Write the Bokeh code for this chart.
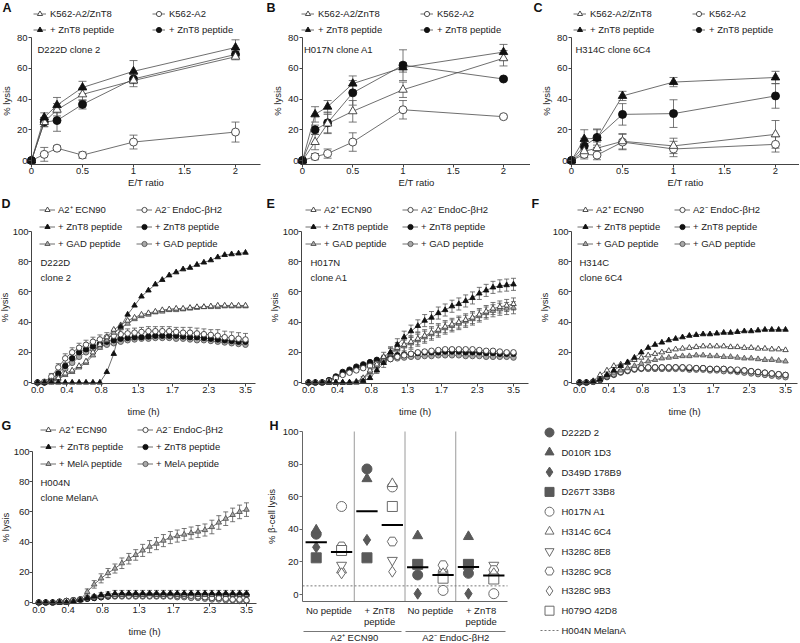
import numpy as np
from bokeh.plotting import figure
from bokeh.models import (Range1d, FixedTicker, Legend, LegendItem, Label, Whisker,
                          ColumnDataSource, LinearAxis, TeeHead)
from bokeh.layouts import column, row
from bokeh.embed import file_html
from bokeh.resources import INLINE
from bokeh.core.properties import value

# ---------------- data: panels A-C (lysis vs E/T ratio) ----------------
et_ratio = [0, 0.125, 0.25, 0.5, 1, 2]
et_ticks = [0, 0.5, 1, 1.5, 2]
et_tick_labels = ["0", "0.5", "1", "1.5", "2"]
lysis_ticks_80 = [0, 20, 40, 60, 80]
lysis_ticks_100 = [0, 20, 40, 60, 80, 100]
et_legend_labels = ["K562-A2/ZnT8", "+ ZnT8 peptide", "K562-A2", "+ ZnT8 peptide"]

a_znt8 = [0, 25, 33, 43, 52, 67.5]
a_znt8_err = [0, 3, 4, 4, 4, 2]
a_znt8_pep = [0, 28, 36, 47.5, 58, 73.5]
a_znt8_pep_err = [0, 3, 5, 4, 7, 5]
a_a2 = [0, 4, 8, 3.5, 12, 18.5]
a_a2_err = [0, 4.5, 1.5, 2, 4.5, 6.5]
a_a2_pep = [0, 25, 26, 36.5, 53, 69]
a_a2_pep_err = [0, 3, 7, 3, 3, 2]

b_znt8 = [0, 12, 24, 32, 46, 66.5]
b_znt8_err = [0, 5, 6, 7, 5, 5]
b_znt8_pep = [0, 30, 35, 50, 60.5, 70.5]
b_znt8_pep_err = [0, 5, 4, 5, 3, 5]
b_a2 = [0, 2.5, 4.5, 12, 33, 28.5]
b_a2_err = [0, 2, 3, 6, 6, 1]
b_a2_pep = [0, 20, 24.5, 44, 62, 53]
b_a2_pep_err = [0, 3, 7, 8, 10, 1]

c_znt8 = [0, 6, 8, 12.5, 9.5, 17]
c_znt8_err = [0, 4, 4, 5, 5, 9]
c_znt8_pep = [0, 14, 14.5, 42, 51, 54]
c_znt8_pep_err = [0, 6, 6, 3, 3, 4]
c_a2 = [0, 4, 3.5, 12, 7.5, 10.5]
c_a2_err = [0, 3, 3, 5, 5, 5]
c_a2_pep = [0, 9.5, 15, 30, 30.5, 42]
c_a2_pep_err = [0, 5, 5, 7, 9, 8]

# ---------------- data: panels D-G (lysis vs time) ----------------
time_idx = list(range(31))
time_tick_pos = [0, 4.25, 9.2, 14.5, 19.45, 24.7, 30]
time_tick_labels = ["0.0", "0.4", "0.8", "1.3", "1.7", "2.3", "3.5"]
gad_legend_labels = ["A2\u207a ECN90", "+ ZnT8 peptide", "+ GAD peptide",
                     "A2\u207b EndoC-\u03b2H2", "+ ZnT8 peptide", "+ GAD peptide"]
mela_legend_labels = ["A2\u207a ECN90", "+ ZnT8 peptide", "+ MelA peptide",
                      "A2\u207b EndoC-\u03b2H2", "+ ZnT8 peptide", "+ MelA peptide"]

d_a2p = [0, 0, 1, 3, 6, 8, 11, 14, 20, 25, 30, 35, 38, 41, 43, 45, 46, 47, 48, 48.5,
         49, 49, 49.5, 50, 50, 50.5, 51, 51, 51, 51, 51]
d_zt8_a2p = [0, 0, 0, 0, 0, 0, 0, 0, 0, 0, 7, 19, 37, 45, 51, 57, 61, 65, 68, 71,
             73, 75, 76, 78, 79.5, 81, 83, 84.5, 85, 85.5, 86]
d_gad_a2p = [0, 0, 0.5, 2, 5, 7, 10, 13, 18, 23, 28, 33, 36, 39, 42, 44, 45, 46.5, 47, 48,
             48, 48.5, 49, 49.5, 50, 50, 50, 50.5, 50.5, 50.5, 50.5]
d_a2m = [0, 0.5, 4, 10, 16, 20, 23, 25, 27, 28.5, 30, 31, 32, 32.5, 33, 33.5, 34, 34, 34, 34,
         33.5, 33, 33, 32.5, 32, 31.5, 31, 30, 29.5, 29, 28.5]
d_a2m_err = [0, 1, 2, 2.5, 3, 3, 3, 3, 3, 3, 3, 3, 3, 3, 3, 3, 3, 3, 3, 3,
             3, 3.5, 3.5, 3.5, 3.5, 3.5, 4, 4, 4, 4, 4]
d_zt8_a2m = [0, 0, 2, 6, 11, 16, 20, 22, 24, 25.5, 27, 28, 29, 29.5, 30, 30, 30.5, 31, 31, 31,
             31, 30.5, 30, 30, 29.5, 29, 28.5, 28, 27.5, 27, 27]
d_gad_a2m = [0, 0, 1, 4, 9, 13, 17, 20, 22, 24, 25, 26, 27, 28, 28.5, 29, 29, 29.5, 29.5, 29.5,
             29, 29, 28.5, 28, 28, 27.5, 27, 26.5, 26, 25.5, 25]

e_a2p = [0, 0, 0, 0, 0, 0, 0, 0.5, 3, 8, 12, 17, 20, 23, 25, 27, 29, 31, 33, 35,
         37, 38.5, 40, 41.5, 43, 45, 47, 49, 50, 51, 52]
e_a2p_err = [0, 0, 0, 0, 0, 0, 0, 0, 1, 2, 3, 3, 3.5, 3.5, 4, 4, 4, 4, 4, 4,
             4, 4, 4, 4, 4, 4, 4, 4, 4, 4, 4]
e_zt8_a2p = [0, 0, 0, 0, 0, 0, 0, 0, 1, 3, 8, 13, 20, 25, 30, 34, 37.5, 41, 43, 46,
             48, 50.5, 52, 54, 56, 59, 61, 63, 64, 64.5, 65]
e_zt8_a2p_err = [0, 0, 0, 0, 0, 0, 0, 0, 0, 1, 2, 3, 3.5, 4, 4, 4, 4, 4, 4, 4,
                 4, 4, 4, 4, 4, 4, 4, 4, 4, 4, 4]
e_gad_a2p = [0, 0, 0, 0, 0, 0, 0, 0.5, 2, 7, 11, 15, 19, 22, 24, 26, 28, 30, 32, 34,
             36, 37.5, 39, 40.5, 42, 44, 46, 47.5, 48.5, 49, 49.5]
e_gad_a2p_err = [0, 0, 0, 0, 0, 0, 0, 0, 1, 2, 3, 3, 3.5, 3.5, 4, 4, 4, 4, 4, 4,
                 4, 4, 4, 4, 4, 4, 4, 4, 4, 4, 4]
e_a2m = [0, 0, 0, 1, 3, 5, 6.5, 8, 9.5, 11, 12.5, 14, 15.5, 17, 18, 19, 20, 20.5, 21, 21.5,
         22, 22, 22, 22, 22, 21.5, 21, 21, 20.5, 20, 20]
e_a2m_err = [0, 0, 0, 0.5, 1, 1, 1, 1, 1, 1, 1, 1, 1, 1, 1, 1, 1, 1, 1, 1,
             1, 1, 1, 1, 1, 1, 1, 1, 1, 1, 1]
e_zt8_a2m = [0, 0, 0, 1.5, 4, 7, 8.5, 10.5, 12, 13.5, 15, 16, 17, 18, 18.5, 19, 19.5, 20, 20, 20,
             20.5, 20.5, 20.5, 20, 20, 20, 19.5, 19.5, 19, 19, 19]
e_gad_a2m = [0, 0, 0, 1.5, 3.5, 6, 7.5, 9.5, 11, 12.5, 13.5, 14.5, 15.5, 16, 16.5, 17, 17, 17.5, 17.5, 18,
             18, 18, 18, 17.5, 17.5, 17.5, 17, 17, 17, 17, 16.5]

f_a2p = [0, 0, 1, 5, 8, 11, 12, 13, 15, 16.5, 18, 19, 20, 21, 22, 22.5, 23, 23.5, 24, 24,
         24, 24, 23.5, 23.5, 23, 23, 22.5, 22.5, 22, 22, 21.5]
f_zt8_a2p = [0, 0, 0.5, 2, 5, 8, 11, 13.5, 16.5, 20, 23, 25, 26.5, 28, 29, 30, 31, 31.5, 32, 32,
             32.5, 33, 33, 33.5, 34, 34, 34.5, 35, 35, 35, 35]
f_gad_a2p = [0, 0, 0.5, 2, 4, 6, 8, 9.5, 11, 12.5, 14, 15, 16, 16.5, 17, 17.5, 17.5, 18, 18, 17.5,
             17.5, 17, 17, 16.5, 16, 16, 15.5, 15, 15, 14.5, 14]
f_a2m = [0, 0, 0.5, 2, 4, 5.5, 7, 8, 9, 9.5, 10, 10, 10, 10, 10, 10, 10, 9.5, 9.5, 9,
         9, 9, 8.5, 8.5, 8, 7.5, 7, 6.5, 6, 5.5, 5]
f_zt8_a2m = [0, 0, 0.5, 2, 4, 5.5, 7, 8, 9, 9.5, 10, 10, 10, 10, 10, 10, 9.5, 9.5, 9.5, 9,
             9, 9, 8.5, 8, 8, 7.5, 7, 6.5, 6, 5.5, 5]
f_gad_a2m = [0, 0, 0.5, 1.5, 3.5, 5, 6.5, 7.5, 8.5, 9, 9, 9, 9, 9, 9, 9, 8.5, 8.5, 8.5, 8,
             8, 7.5, 7.5, 7, 6.5, 6, 5.5, 5, 4.5, 4, 3.5]

g_a2p = [0, 0, 0, 0, 0, 1, 2, 3, 3.5, 4, 4.5, 5, 5, 5.5, 5, 5, 5.5, 5, 5, 5.5,
         5, 5, 5.5, 5, 5, 5, 5.5, 5, 5, 5, 5]
g_zt8_a2p = [0, 0, 0, 0, 0, 0.5, 1.5, 3, 4, 5, 5.5, 6, 6, 6, 6, 6, 6, 6, 6, 6,
             6, 6, 6, 6, 6, 6, 6, 6, 6, 6, 6]
g_zt8_a2p_err = [0, 0, 0, 0, 0, 0, 0.5, 1, 1, 1.5, 1.5, 2, 2, 2, 2, 2, 2, 2, 2, 2,
                 2, 2, 2, 2, 2, 2, 2, 2, 2, 2, 2]
g_mela_a2p = [0, 0, 0, 0, 0, 1, 2, 7, 12, 16, 19.5, 22.5, 26, 29, 31.5, 34.5, 37, 39, 41, 43,
              44, 45, 46, 47, 48, 50, 53, 55.5, 58, 60, 61.5]
g_mela_a2p_err = [0, 0, 0, 0, 0, 0, 1, 2, 2.5, 3, 3, 3, 3.5, 3.5, 3.5, 4, 4, 4, 4, 4,
                  4, 4, 4, 4, 4, 4.5, 4.5, 4.5, 4.5, 4.5, 4.5]
g_a2m = [0, 0, 0, 0.5, 1, 1.5, 2, 3, 3.5, 4, 4.5, 4.5, 4.5, 4.5, 4.5, 4.5, 4.5, 4.5, 4.5, 4.5,
         4.5, 4.5, 4.5, 4, 3.5, 3, 3, 2.5, 2, 2, 1.5]
g_zt8_a2m = [0, 0, 0, 0.5, 1, 1.5, 2, 2.5, 3, 3.5, 4, 4.5, 5, 5, 5, 5, 5, 5, 5, 5,
             5, 5, 5, 5, 5, 5, 5, 5, 5, 5, 5]
g_mela_a2m = [0, 0, 0, 0.5, 1, 1.5, 2, 2.5, 3, 3.5, 4, 4, 4, 4, 4, 4, 4, 4, 4, 4,
              3.5, 3.5, 3, 3, 2.5, 2, 2, 1.5, 1.5, 1, 1]

# ---------------- data: panel H (beta-cell lysis per clone) ----------------
h_condition_labels = ["No peptide", "+ ZnT8\npeptide", "No peptide", "+ ZnT8\npeptide"]
h_cell_labels = ["A2\u207a ECN90", "A2\u207b EndoC-\u03b2H2"]
h_ticks = [0, 20, 40, 60, 80, 100]
d_clone_names = ["D222D 2", "D010R 1D3", "D349D 178B9", "D267T 33B8"]
d222d_2 = [37, 77, 12, 13]
d010r_1d3 = [39.5, 71, 36, 35.5]
d349d_178b9 = [29, 33.5, 0.5, 0.5]
d267t_33b8 = [22.5, 22.5, 18.5, 18.5]
h_clone_names = ["H017N A1", "H314C 6C4", "H328C 8E8", "H328C 9C8", "H328C 9B3", "H079O 42D8"]
h017n_a1 = [54, 66, 2.5, 0.5]
h314c_6c4 = [15, 68, 16, 14]
h328c_8e8 = [18, 21, 12, 18]
h328c_9c8 = [29.5, 32.5, 18, 15]
h328c_9b3 = [13, 14, 13, 13]
h079o_42d8 = [27, 54, 10, 9.5]
melana_name = "H004N MelanA"
h004n_melana = 5.3

# ---------------- style ----------------
FONT = "Liberation Sans"
TXT = "#222222"
AX = "#444444"
LN = "#4a4a4a"
OUT = "#3a3a3a"
BLK = "#111111"
GRY = "#a8a8a8"
FS = "9.5px"

ROW_H = [196, 222, 224]
COL_W = [265, 265, 269]


def ranges(w, h, lx0, xv0, xppu, ly0, yv0, yppu):
    xr = (xv0 - lx0 / xppu, xv0 + (w - lx0) / xppu)
    yr = (yv0 - (h - ly0) / yppu, yv0 + ly0 / yppu)
    return xr, yr


def px2data(geom, lx, ly):
    w, h, xr, yr = geom
    return xr[0] + lx / w * (xr[1] - xr[0]), yr[1] - ly / h * (yr[1] - yr[0])


def fig(w, h, xr, yr):
    p = figure(width=w, height=h, x_range=Range1d(*xr), y_range=Range1d(*yr),
               output_backend="svg", toolbar_location=None,
               min_border_left=0, min_border_right=0, min_border_top=0, min_border_bottom=0)
    p.outline_line_color = None
    p.xgrid.visible = False
    p.ygrid.visible = False
    p.background_fill_color = "white"
    p.border_fill_color = "white"
    return p


def style_axis(ax, label, ticks, loc, bounds, overrides=None, tick_out=3, lab_standoff=0,
               axlab_standoff=2, color=AX):
    ax.axis_label = label
    ax.fixed_location = loc
    ax.bounds = bounds
    ax.ticker = FixedTicker(ticks=ticks)
    if overrides:
        ax.major_label_overrides = overrides
    ax.minor_tick_line_color = None
    ax.major_tick_in = 0
    ax.major_tick_out = tick_out
    ax.major_tick_line_color = color if tick_out else None
    ax.axis_line_color = color
    ax.axis_line_width = 1
    ax.major_label_standoff = lab_standoff
    ax.axis_label_standoff = axlab_standoff
    ax.major_label_text_font = FONT
    ax.major_label_text_font_size = FS
    ax.major_label_text_color = TXT
    ax.axis_label_text_font = FONT
    ax.axis_label_text_font_size = FS
    ax.axis_label_text_font_style = "normal"
    ax.axis_label_text_color = TXT


def series(p, x, y, err, marker, fill, line, size, cap):
    src = ColumnDataSource(dict(x=x, y=y))
    lr = p.line("x", "y", source=src, line_color=LN, line_width=0.8)
    if err is not None:
        keep = [i for i, e in enumerate(err) if e > 0]
        wsrc = ColumnDataSource(dict(base=[x[i] for i in keep],
                                     upper=[y[i] + err[i] for i in keep],
                                     lower=[y[i] - err[i] for i in keep]))
        p.add_layout(Whisker(source=wsrc, base="base", upper="upper", lower="lower",
                             dimension="height", line_color="#555555", line_width=0.8,
                             upper_head=TeeHead(size=cap, line_color="#555555", line_width=0.8),
                             lower_head=TeeHead(size=cap, line_color="#555555", line_width=0.8)))
    sr = p.scatter("x", "y", source=src, marker=marker, size=size, fill_color=fill,
                   line_color=line, line_width=0.9)
    return [lr, sr]


def legend(p, items, h, left_px, top_px, nrows, glyph_w, label_w, label_h, spacing, standoff):
    leg_h = nrows * label_h + (nrows - 1) * spacing
    leg = Legend(items=items, location=(left_px, h - top_px - leg_h), ncols=2,
                 orientation="vertical",
                 glyph_width=glyph_w, glyph_height=label_h, label_width=label_w,
                 label_height=label_h, spacing=spacing, margin=0, padding=0,
                 label_standoff=standoff, border_line_color=None, background_fill_alpha=0,
                 label_text_font=FONT, label_text_font_size=FS, label_text_color=TXT)
    p.add_layout(leg)


def letter(p, geom, txt, lx, ly):
    x, y = px2data(geom, lx, ly)
    p.add_layout(Label(x=x, y=y, text=txt, text_font=FONT, text_font_size="12.5px",
                       text_font_style="bold", text_color="#111111",
                       text_baseline="top", text_align="left"))


def note(p, geom, txt, lx, ly, baseline):
    x, y = px2data(geom, lx, ly)
    p.add_layout(Label(x=x, y=y, text=txt, text_font=FONT, text_font_size=FS,
                       text_color=TXT, text_baseline=baseline, text_align="left",
                       text_line_height=1.4))


# ---------------- A-C ----------------
def et_panel(let, clone_txt, tri_o, tri_o_e, tri_b, tri_b_e, cir_o, cir_o_e, cir_b, cir_b_e,
             w, lx0, xppu, x_end, leg_left, let_lx, txt_lx):
    h = ROW_H[0]
    ly0, yppu = 160.0, 1.5375
    xr, yr = ranges(w, h, lx0, 0, xppu, ly0, 0, yppu)
    geom = (w, h, xr, yr)
    p = fig(w, h, xr, yr)
    x_axis_y = -(163.7 - ly0) / yppu
    r_co = series(p, et_ratio, cir_o, cir_o_e, "circle", "white", OUT, 8, 8)
    r_cb = series(p, et_ratio, cir_b, cir_b_e, "circle", BLK, BLK, 8, 8)
    r_to = series(p, et_ratio, tri_o, tri_o_e, "triangle", "white", OUT, 8.5, 8)
    r_tb = series(p, et_ratio, tri_b, tri_b_e, "triangle", BLK, BLK, 8.5, 8)
    rs = [r_to, r_tb, r_co, r_cb]
    items = [LegendItem(label=lab, renderers=r) for lab, r in zip(et_legend_labels, rs)]
    legend(p, items, h, leg_left, 6.5, 2, 13, 99, 13, 3, 4)
    style_axis(p.xaxis[0], "E/T ratio", et_ticks, x_axis_y, (0, x_end),
               overrides=dict(zip(et_ticks, et_tick_labels)), lab_standoff=1, axlab_standoff=-1)
    style_axis(p.yaxis[0], "% lysis", lysis_ticks_80, 0, (x_axis_y, 80),
               lab_standoff=1, axlab_standoff=2)
    letter(p, geom, let, let_lx, 0)
    note(p, geom, clone_txt, txt_lx, 49, "middle")
    return p


pA = et_panel("A", "D222D clone 2", a_znt8, a_znt8_err, a_znt8_pep, a_znt8_pep_err,
              a_a2, a_a2_err, a_a2_pep, a_a2_pep_err, COL_W[0], 31, 102, 2.245, 33, 2, 37)
pB = et_panel("B", "H017N clone A1", b_znt8, b_znt8_err, b_znt8_pep, b_znt8_pep_err,
              b_a2, b_a2_err, b_a2_pep, b_a2_pep_err, COL_W[1], 37, 100.5, 2.27, 36, 1, 38.5)
pC = et_panel("C", "H314C clone 6C4", c_znt8, c_znt8_err, c_znt8_pep, c_znt8_pep_err,
              c_a2, c_a2_err, c_a2_pep, c_a2_pep_err, COL_W[2], 41, 102, 2.3, 43, 3, 45)


# ---------------- D-G ----------------
def time_panel(let, clone_txt, vals, errs, labels, w, h, lx0, xppu, y_axis_x, x_end,
               ly0, yppu, axis_ly, leg_left, leg_top, let_lx, txt_lx, txt_ty):
    xr, yr = ranges(w, h, lx0, 0, xppu, ly0, 0, yppu)
    geom = (w, h, xr, yr)
    p = fig(w, h, xr, yr)
    x_axis_y = -(axis_ly - ly0) / yppu
    styles = [("triangle", "white", OUT), ("triangle", BLK, BLK), ("triangle", GRY, "#555555"),
              ("circle", "white", OUT), ("circle", BLK, BLK), ("circle", GRY, "#555555")]
    rs = [None] * 6
    for i in [5, 4, 3, 2, 0, 1]:
        m, f, l = styles[i]
        rs[i] = series(p, time_idx, vals[i], errs[i], m, f, l, 5.5, 5)
    items = [LegendItem(label=lab, renderers=r) for lab, r in zip(labels, rs)]
    legend(p, items, h, leg_left, leg_top, 3, 16, 74, 13, 4, 3)
    style_axis(p.xaxis[0], "time (h)", time_tick_pos, x_axis_y, (y_axis_x, x_end),
               overrides=dict(zip(time_tick_pos, time_tick_labels)), lab_standoff=0,
               axlab_standoff=10)
    style_axis(p.yaxis[0], "% lysis", lysis_ticks_100, y_axis_x, (x_axis_y, 100),
               lab_standoff=0, axlab_standoff=0)
    letter(p, geom, let, let_lx, 0)
    note(p, geom, clone_txt, txt_lx, txt_ty, "top")
    return p


pD = time_panel("D", "D222D\nclone 2",
                [d_a2p, d_zt8_a2p, d_gad_a2p, d_a2m, d_zt8_a2m, d_gad_a2m],
                [None, None, None, d_a2m_err, None, None], gad_legend_labels,
                COL_W[0], ROW_H[1], 37, 6.933, -0.865, 31.44, 186, 1.51, 187, 39, 6.5, 1, 40, 60)
pE = time_panel("E", "H017N\nclone A1",
                [e_a2p, e_zt8_a2p, e_gad_a2p, e_a2m, e_zt8_a2m, e_gad_a2m],
                [e_a2p_err, e_zt8_a2p_err, e_gad_a2p_err, e_a2m_err, None, None], gad_legend_labels,
                COL_W[1], ROW_H[1], 43, 6.833, -1.02, 32.2, 186, 1.51, 187, 40, 6.5, 1, 45, 60)
pF = time_panel("F", "H314C\nclone 6C4",
                [f_a2p, f_zt8_a2p, f_gad_a2p, f_a2m, f_zt8_a2m, f_gad_a2m],
                [None] * 6, gad_legend_labels,
                COL_W[2], ROW_H[1], 49, 6.867, -1.165, 31.75, 186, 1.51, 187, 47, 6.5, 1, 49, 60)
pG = time_panel("G", "H004N\nclone MelanA",
                [g_a2p, g_zt8_a2p, g_mela_a2p, g_a2m, g_zt8_a2m, g_mela_a2m],
                [None, g_zt8_a2p_err, g_mela_a2p_err, None, None, None], mela_legend_labels,
                COL_W[0], ROW_H[2], 38.3, 6.923, -0.91, 31.4, 184, 1.51, 185, 40, 4.5, 1, 40, 58.5)

# ---------------- H ----------------
cond_x = [1, 2, 3, 4]
h_sep = [1.5, 2.5, 3.5]
d_off, h_off, mean_half = -0.25, 0.25, 0.21
hw, hh = COL_W[1], ROW_H[2]
h_ly0, h_yppu = 176.0, 1.63
h_xr, h_yr = ranges(hw, hh, 63.4, 1, 50.74, h_ly0, 0, h_yppu)
h_geom = (hw, hh, h_xr, h_yr)
pH = fig(hw, hh, h_xr, h_yr)
h_left_x, h_right_x = 0.48, 4.52
h_axis_y = -(183 - h_ly0) / h_yppu
h_group_y = -(213 - h_ly0) / h_yppu

pH.segment(x0=h_sep, x1=h_sep, y0=[h_axis_y] * 3, y1=[100] * 3,
           line_color="#9a9a9a", line_width=1)
pH.segment(x0=[h_left_x], x1=[h_right_x], y0=[h004n_melana], y1=[h004n_melana],
           line_color="#777777", line_dash="2 2", line_width=1)

d_vals = [d222d_2, d010r_1d3, d349d_178b9, d267t_33b8]
d_markers = ["circle", "triangle", "diamond", "square"]
h_vals = [h017n_a1, h314c_6c4, h328c_8e8, h328c_9c8, h328c_9b3, h079o_42d8]
h_markers = ["circle", "triangle", "inverted_triangle", "hex", "diamond", "square"]
HF = "#595959"
for vals, mk in zip(d_vals, d_markers):
    pH.scatter([c + d_off for c in cond_x], vals, marker=mk, size=10 if mk != "diamond" else 11,
               fill_color=HF, line_color=HF)
for vals, mk in zip(h_vals, h_markers):
    pH.scatter([c + h_off for c in cond_x], vals, marker=mk, size=10 if mk != "diamond" else 11,
               fill_color="white", line_color="#6a6a6a", line_width=1)
d_means = np.mean(np.array(d_vals), axis=0)
h_means = np.mean(np.array(h_vals), axis=0)
mx0 = [c + d_off - mean_half for c in cond_x] + [c + h_off - mean_half for c in cond_x]
mx1 = [c + d_off + mean_half for c in cond_x] + [c + h_off + mean_half for c in cond_x]
my = list(d_means) + list(h_means)
pH.segment(x0=mx0, x1=mx1, y0=my, y1=my, line_color="black", line_width=2)

style_axis(pH.yaxis[0], "% \u03b2-cell lysis", h_ticks, h_left_x, (h_axis_y, 100),
           lab_standoff=1, axlab_standoff=3, color="#666666")
style_axis(pH.xaxis[0], None, cond_x, h_axis_y, (h_left_x, h_right_x),
           overrides=dict(zip(cond_x, h_condition_labels)),
           tick_out=0, lab_standoff=3, color="#666666")
pH.xaxis[0].major_label_text_line_height = 1.0
for tick, lab, bnd in zip([1.5, 3.5], h_cell_labels, [(0.49, 2.44), (2.50, 4.49)]):
    ax2 = LinearAxis()
    style_axis(ax2, None, [tick], h_group_y, bnd, overrides={tick: lab},
               tick_out=0, lab_standoff=0, color="#777777")
    pH.add_layout(ax2, "below")
letter(pH, h_geom, "H", 4, 0)

# ---------------- H key ----------------
key_names = d_clone_names + h_clone_names + [melana_name]
key_rows = list(range(len(key_names)))
key_fills = [HF] * len(d_clone_names) + ["white"] * len(h_clone_names)
key_lines = [HF] * len(d_clone_names) + ["#6a6a6a"] * len(h_clone_names)
key_markers = d_markers + h_markers
lw, lh = COL_W[2], ROW_H[2]
key_top, key_pitch = 14.0, 19.8
pL = fig(lw, lh, (0, lw), ((lh - key_top) / key_pitch, -key_top / key_pitch))
pL.xaxis.visible = False
pL.yaxis.visible = False
key_mx = 19
for r, mk, fc, lc in zip(key_rows, key_markers, key_fills, key_lines):
    pL.scatter([key_mx], [r], marker=mk, size=9 if mk != "diamond" else 10,
               fill_color=fc, line_color=lc, line_width=1)
pL.segment(x0=[key_mx - 9], x1=[key_mx + 9], y0=[key_rows[-1]], y1=[key_rows[-1]],
           line_color="#777777", line_dash="2 2", line_width=1)
pL.text(x=[31] * len(key_names), y=key_rows, text=key_names, text_font=value(FONT),
        text_font_size=value(FS), text_color=TXT, text_baseline="middle", text_align="left")

layout = column(row(pA, pB, pC), row(pD, pE, pF), row(pG, pH, pL))
open("out.html", "w").write(file_html(layout, INLINE))
